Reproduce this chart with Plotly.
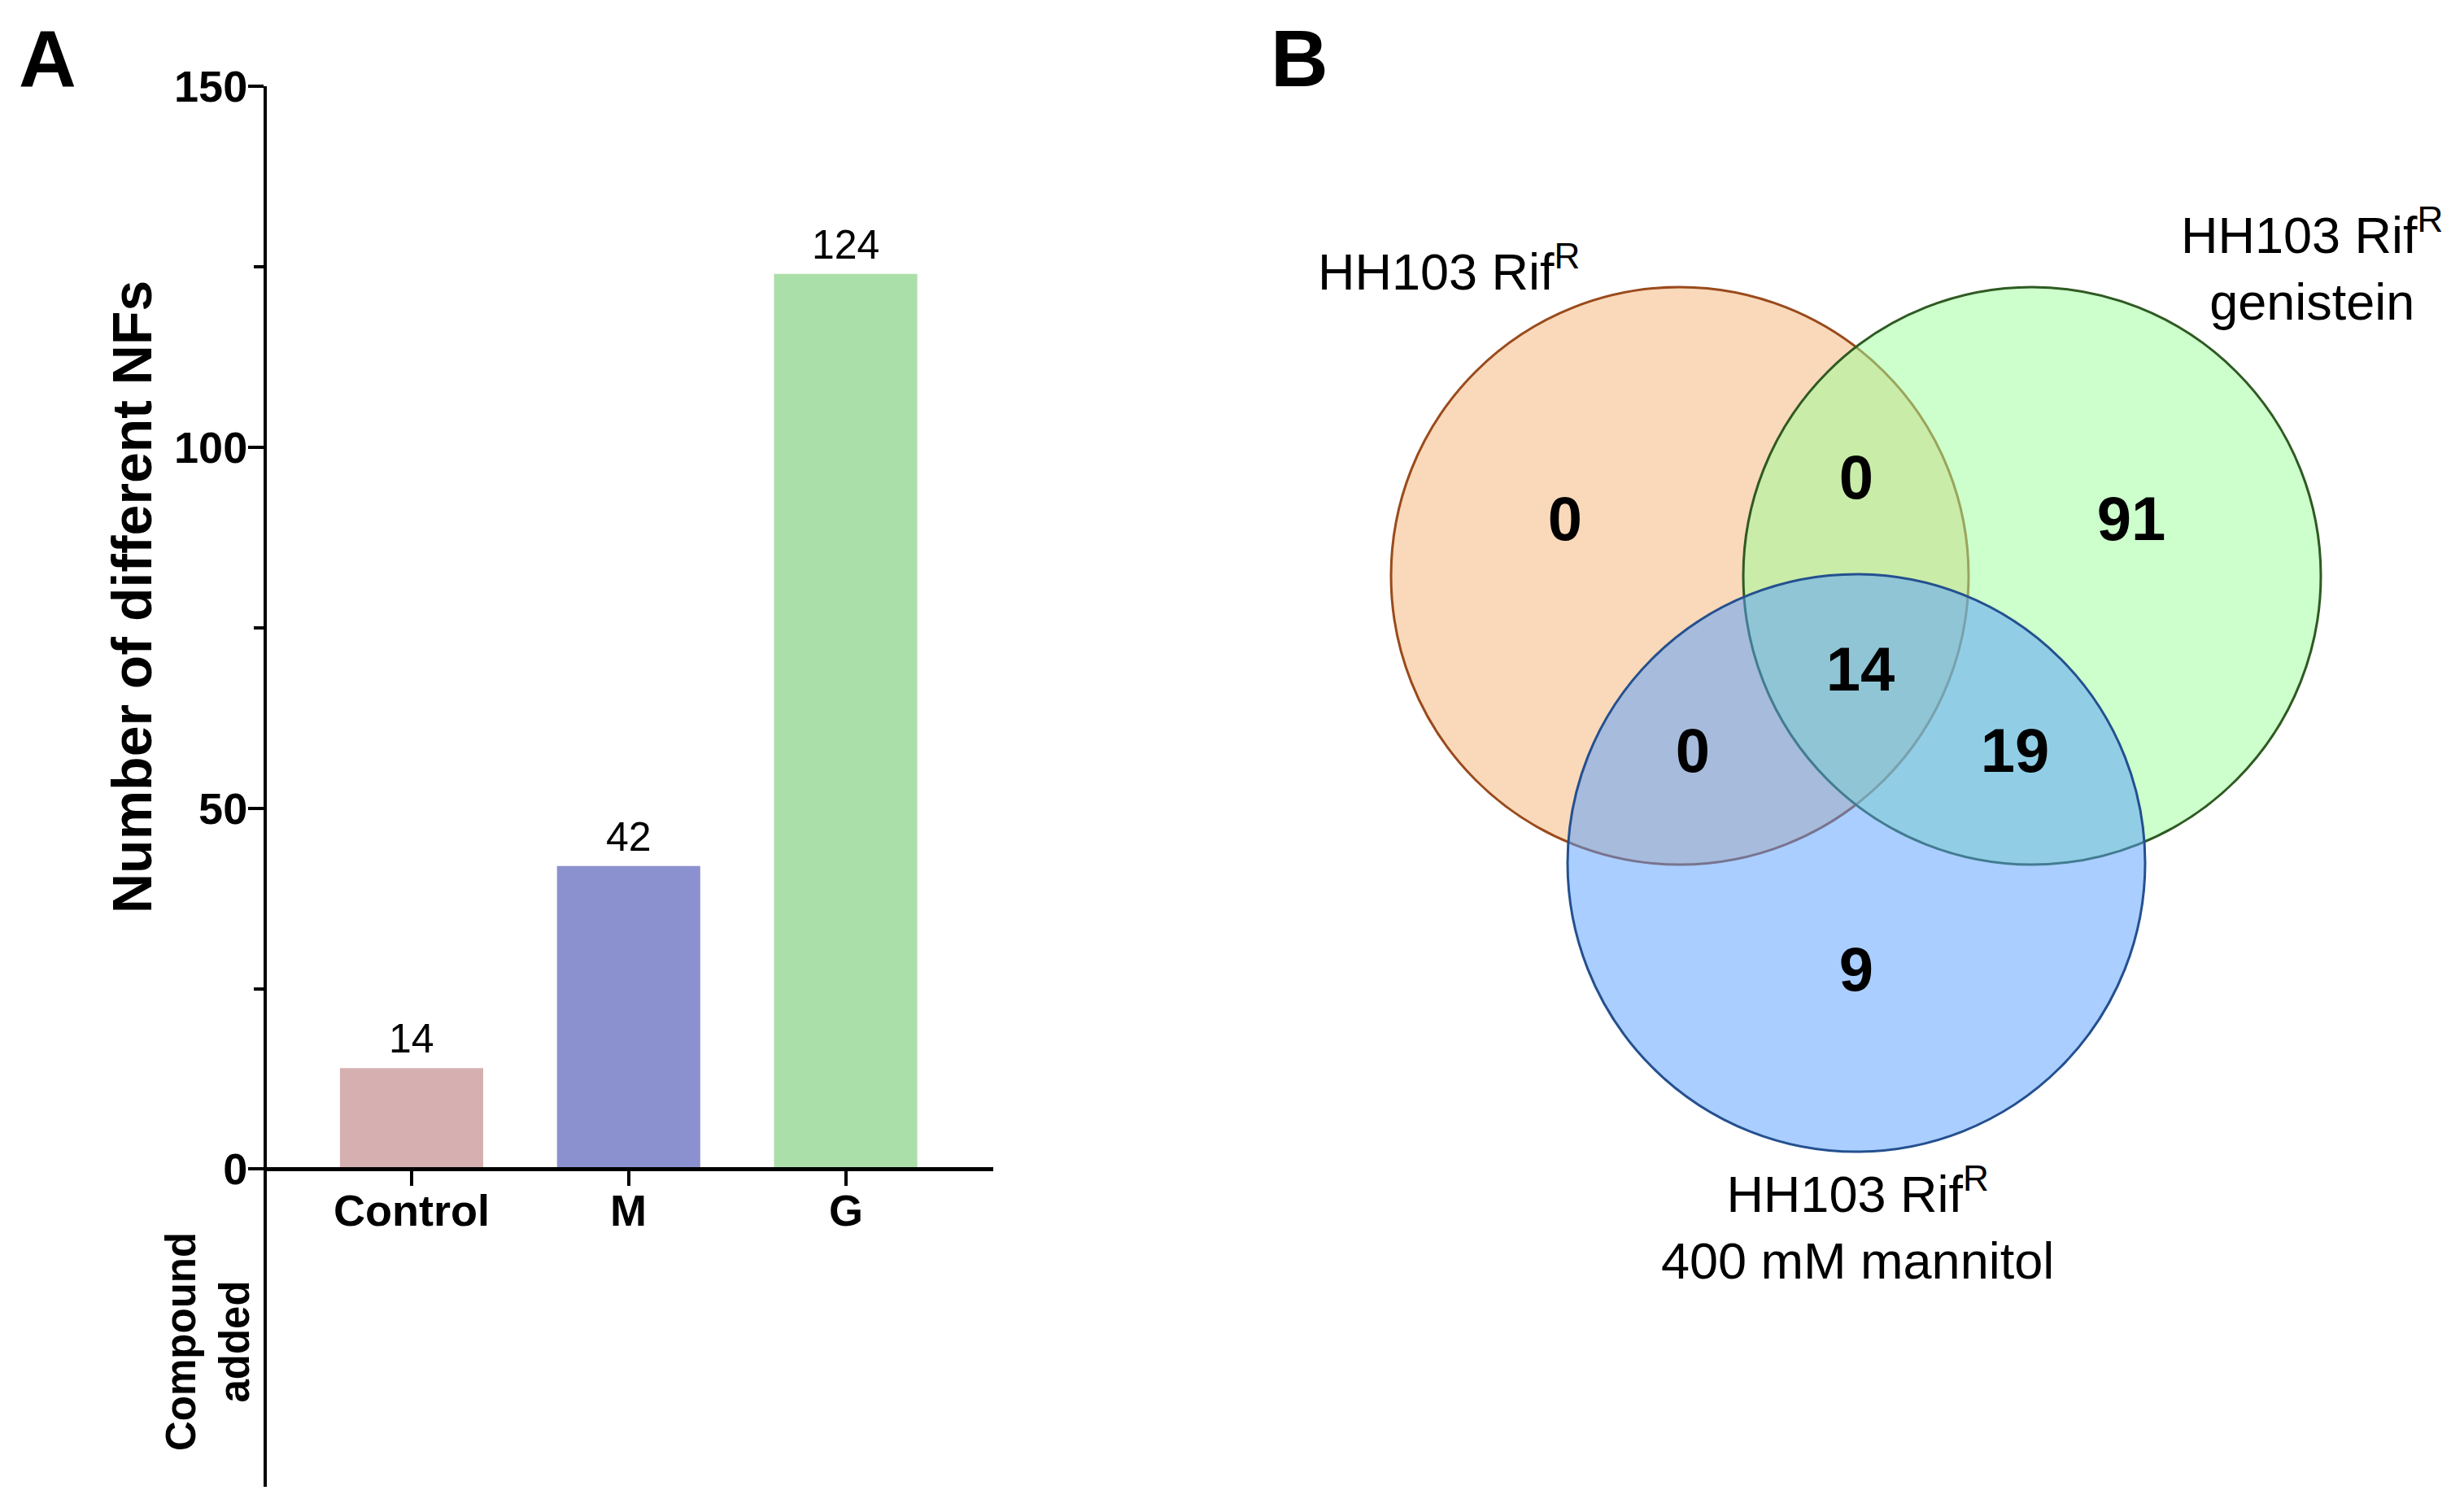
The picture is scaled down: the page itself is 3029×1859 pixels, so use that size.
import plotly.graph_objects as go

# ---------------- data ----------------
categories = ["Control", "M", "G"]
nf_counts = [14, 42, 124]
bar_colors = ["#D6B0B0", "#8B90CE", "#ABDFA9"]
y_tick_vals = [0, 50, 100, 150]
y_minor_vals = [25, 75, 125]

venn_set_labels = [
    "HH103 Rif<sup>R</sup>",
    "HH103 Rif<sup>R</sup><br>genistein",
    "HH103 Rif<sup>R</sup><br>400 mM mannitol",
]
venn_region_names = ["HH103 only", "HH103 & genistein", "genistein only", "all three",
                     "HH103 & mannitol", "genistein & mannitol", "mannitol only"]
venn_counts = [0, 0, 91, 14, 0, 19, 9]

# ---------------- layout geometry (pixels) ----------------
W, H = 3029, 1859
circles = [(2065, 708, 355), (2498, 708, 355), (2282, 1061, 355)]
circle_fills = ["rgba(243,179,115,0.5)", "rgba(153,255,153,0.5)", "rgba(85,157,255,0.5)"]
circle_lines = ["#9A4A1C", "#2F5A22", "#24508F"]
region_pos = [(1924, 645), (2282, 594), (2620, 645), (2287, 830),
              (2081, 930), (2477, 930), (2282, 1199)]
set_label_pos = [(1781, 329), (2842, 325), (2283, 1504)]

FONT = "Liberation Sans, Arial, sans-serif"

fig = go.Figure()

fig.add_trace(go.Bar(
    x=categories, y=nf_counts, marker=dict(color=bar_colors, line=dict(width=0)),
    width=0.66, xaxis="x", yaxis="y", showlegend=False, hoverinfo="x+y",
))

# value labels above bars
for c, v in zip(categories, nf_counts):
    fig.add_annotation(x=c, y=v, xref="x", yref="y", text=str(v), showarrow=False,
                       xanchor="center", yanchor="bottom", yshift=6,
                       font=dict(family=FONT, size=50, color="black"))

# category labels under the x axis
for c in categories:
    fig.add_annotation(x=c, y=1 - 1488 / H, xref="x", yref="paper", text=c, showarrow=False,
                       xanchor="center", yanchor="middle",
                       font=dict(family=FONT, size=54, color="black", weight="bold"))

# Venn text marks
fig.add_trace(go.Scatter(
    x=[p[0] for p in region_pos], y=[p[1] for p in region_pos],
    text=[str(v) for v in venn_counts], mode="text",
    textfont=dict(family=FONT, size=76, color="black", weight="bold"),
    customdata=venn_region_names, hovertemplate="%{customdata}: %{text}<extra></extra>",
    xaxis="x2", yaxis="y2", showlegend=False,
))

for (cx, cy, r), fc, lc in zip(circles, circle_fills, circle_lines):
    fig.add_shape(type="circle", xref="x2", yref="y2", x0=cx - r, x1=cx + r, y0=cy - r, y1=cy + r,
                  fillcolor=fc, line=dict(color=lc, width=3), layer="below")

for (lx, ly), lab in zip(set_label_pos, venn_set_labels):
    fig.add_annotation(x=lx, y=ly, xref="x2", yref="y2", text=lab, showarrow=False,
                       xanchor="center", yanchor="middle", align="center",
                       font=dict(family=FONT, size=63, color="black"))

# panel letters & titles
for letter, lx in (("A", 58), ("B", 1598)):
    fig.add_annotation(x=lx / W, y=1 - 72 / H, xref="paper", yref="paper", text=letter,
                       showarrow=False, xanchor="center", yanchor="middle",
                       font=dict(family=FONT, size=98, color="black", weight="bold"))
fig.add_annotation(x=162 / W, y=1 - 734 / H, xref="paper", yref="paper",
                   text="Number of different NFs", textangle=-90, showarrow=False,
                   xanchor="center", yanchor="middle",
                   font=dict(family=FONT, size=68, color="black", weight="bold"))
fig.add_annotation(x=255 / W, y=1 - 1650 / H, xref="paper", yref="paper",
                   text="Compound<br>added", textangle=-90, showarrow=False,
                   xanchor="center", yanchor="middle",
                   font=dict(family=FONT, size=51, color="black", weight="bold"))

y_zero_frac = 1 - 1437 / H
fig.update_layout(
    width=W, height=H, margin=dict(l=0, r=0, t=0, b=0, pad=0, autoexpand=False),
    template="none",
    paper_bgcolor="white", plot_bgcolor="rgba(0,0,0,0)",
    xaxis=dict(domain=[328 / W, 1221 / W], type="category", range=[-0.667, 2.68],
               anchor="free", position=y_zero_frac, showline=True, linecolor="black", linewidth=5,
               ticks="outside", ticklen=18, tickwidth=4, tickcolor="black", showgrid=False,
               zeroline=False, showticklabels=False, automargin=False),
    yaxis=dict(domain=[1 - 1828 / H, 1 - 106 / H], range=[-44, 150], anchor="x",
               showline=True, linecolor="black", linewidth=4, ticks="outside", ticklen=19,
               tickwidth=4, tickcolor="black", tickvals=y_tick_vals, showgrid=False, zeroline=False,
               tickfont=dict(family=FONT, size=54, color="black", weight="bold"),
               ticklabelstandoff=-10, automargin=False,
               minor=dict(tickvals=y_minor_vals, ticks="outside", ticklen=12, tickwidth=4,
                          tickcolor="black", showgrid=False)),
    xaxis2=dict(domain=[0.5, 1], range=[W * 0.5, W], visible=False, anchor="y2", automargin=False),
    yaxis2=dict(domain=[0, 1], range=[H, 0], visible=False, anchor="x2", automargin=False),
)

fig.write_html("out.html", config={"displayModeBar": False},
               post_script="document.body.style.margin='0';document.body.style.overflow='hidden';")
